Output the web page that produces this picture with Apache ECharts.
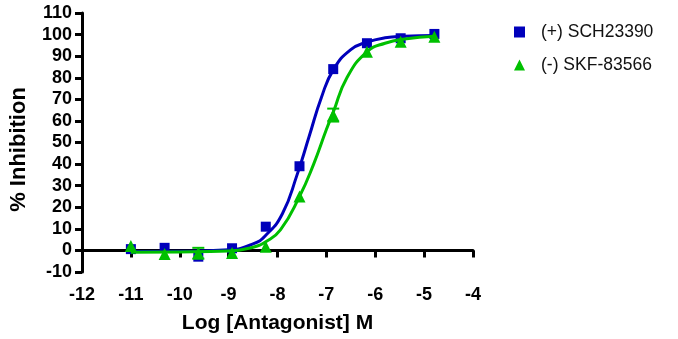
<!DOCTYPE html>
<html>
<head>
<meta charset="utf-8">
<script src="https://cdn.jsdelivr.net/npm/echarts@6/dist/echarts.min.js"></script>
<style>
  html, body { margin: 0; padding: 0; background: #fff; }
  #chart { width: 678px; height: 339px; }
</style>
</head>
<body>
<div id="chart"></div>
<script>
// log concentrations of the measured points
const logConc = [-11, -10.31, -9.62, -8.93, -8.24, -7.55, -6.86, -6.17, -5.48, -4.79];

// (+) SCH23390
const schValues = [0.6, 1.2, -2.9, 1, 11, 39, 84, 96, 98.3, 100.3];
const schErrors = [0, 0, 0, 0, 0, 0, 0, 0, 0, 0];
const schCurveX = [-11, -10, -9, -8.5, -8.24, -7.9, -7.6, -7.35, -7.1, -6.85, -6.5, -6.17, -5.8, -5.4, -4.79];
const schCurveY = [-0.5, -0.4, 0.3, 3, 7, 17, 35, 53, 71, 84, 93, 96.5, 98.5, 99.2, 99.6];

// (-) SKF-83566
const skfValues = [2, -1.7, -1.3, -1.2, 1.7, 25, 62.7, 92, 96.7, 99];
const skfErrors = [0, 0, 2.5, 0, 0, 0, 3, 0, 0, 0];
const skfCurveX = [-11, -10, -9, -8.5, -8.24, -7.94, -7.55, -7.26, -7, -6.86, -6.58, -6.17, -5.8, -5.4, -4.79];
const skfCurveY = [-0.8, -0.7, -0.3, 1.5, 4, 9.5, 25, 40, 56, 64, 80, 92, 96, 98, 99.2];

const BLUE = "#0000bb";
const GREEN = "#00c000";
const FONT = "'Liberation Sans', Arial, sans-serif";

const pairs = (xs, ys) => xs.map((x, i) => [x, ys[i]]);

const errorBars = (values, errors, color, z) => ({
  type: "custom",
  z: z,
  silent: true,
  data: logConc.map((x, i) => [x, values[i], errors[i]]).filter((d) => d[2] > 0),
  renderItem: (params, api) => {
    const x = api.value(0);
    const y = api.value(1);
    const e = api.value(2);
    const top = api.coord([x, y + e]);
    const bot = api.coord([x, y - e]);
    const cap = 6;
    const style = { stroke: color, lineWidth: 2 };
    return {
      type: "group",
      children: [
        { type: "line", shape: { x1: top[0], y1: top[1], x2: bot[0], y2: bot[1] }, style },
        { type: "line", shape: { x1: top[0] - cap, y1: top[1], x2: top[0] + cap, y2: top[1] }, style },
        { type: "line", shape: { x1: bot[0] - cap, y1: bot[1], x2: bot[0] + cap, y2: bot[1] }, style },
      ],
    };
  },
});

const chart = echarts.init(document.getElementById("chart"), null, { renderer: "canvas" });

const axisCommon = {
  axisLine: { lineStyle: { color: "#000", width: 3 } },
  axisTick: { show: true, inside: false, length: 7, lineStyle: { color: "#000", width: 3 } },
  splitLine: { show: false },
};
const labelStyle = { fontFamily: FONT, fontWeight: "bold", fontSize: 18, color: "#000" };
const nameStyle = { fontFamily: FONT, fontWeight: "bold", fontSize: 21, color: "#000" };

const option = {
  animation: false,
  backgroundColor: "#fff",
  grid: { left: 80, right: 205, top: 13, bottom: 67 },
  legend: {
    orient: "vertical",
    left: 509,
    top: 18,
    itemGap: 15,
    itemWidth: 11,
    itemHeight: 11,
    textStyle: { fontFamily: FONT, fontSize: 17.5, color: "#111", padding: [0, 0, 0, 11] },
    data: [
      { name: "(+) SCH23390", icon: "rect" },
      { name: "(-) SKF-83566", icon: "triangle" },
    ],
  },
  xAxis: {
    ...axisCommon,
    type: "value",
    min: -12,
    max: -4,
    interval: 1,
    name: "Log [Antagonist] M",
    nameLocation: "middle",
    nameGap: 41,
    nameTextStyle: nameStyle,
    axisLabel: { ...labelStyle, margin: 14 },
  },
  yAxis: {
    ...axisCommon,
    type: "value",
    min: -10,
    max: 110,
    interval: 10,
    name: "% Inhibition",
    nameLocation: "middle",
    nameGap: 52,
    nameTextStyle: { ...nameStyle, fontSize: 22, padding: [0, 14, 0, 0] },
    axisLabel: { ...labelStyle, margin: 10 },
  },
  series: [
    {
      name: "sch-fit",
      type: "line",
      smooth: true,
      symbol: "none",
      z: 2,
      lineStyle: { color: BLUE, width: 3 },
      data: pairs(schCurveX, schCurveY),
    },
    {
      name: "(+) SCH23390",
      type: "scatter",
      symbol: "rect",
      symbolSize: 10,
      z: 3,
      itemStyle: { color: BLUE, opacity: 1 },
      data: pairs(logConc, schValues),
    },
    errorBars(schValues, schErrors, BLUE, 3),
    {
      name: "skf-fit",
      type: "line",
      smooth: true,
      symbol: "none",
      z: 4,
      lineStyle: { color: GREEN, width: 3 },
      data: pairs(skfCurveX, skfCurveY),
    },
    {
      name: "(-) SKF-83566",
      type: "scatter",
      symbol: "triangle",
      symbolSize: 12,
      z: 5,
      itemStyle: { color: GREEN, opacity: 1 },
      data: pairs(logConc, skfValues),
    },
    errorBars(skfValues, skfErrors, GREEN, 5),
  ],
};

chart.setOption(option);
</script>
</body>
</html>
